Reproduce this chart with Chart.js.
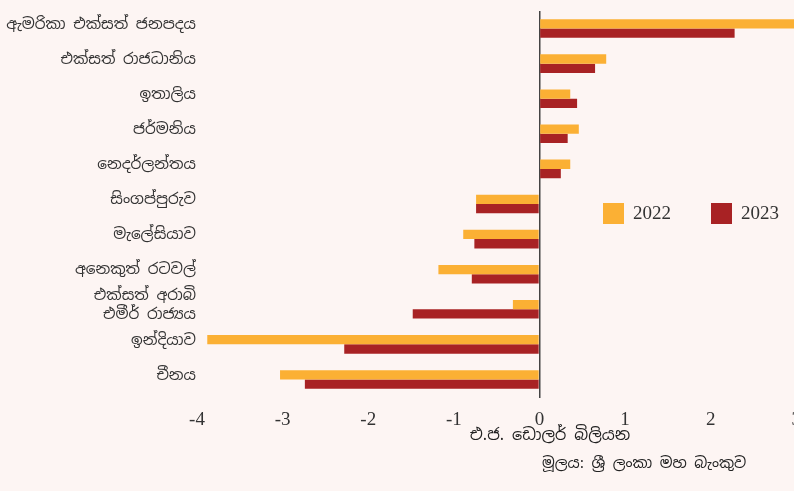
<!DOCTYPE html>
<html>
<head>
<meta charset="utf-8">
<script src="https://cdn.jsdelivr.net/npm/chart.js@4.4.0/dist/chart.umd.min.js"></script>
<style>
  html, body { margin: 0; padding: 0; background: #fdf5f3; overflow: hidden; }
  #wrap { width: 812px; height: 491px; }
</style>
</head>
<body>
<div id="wrap"><canvas id="mycanvas" width="812" height="491"></canvas></div>
<script>
var countries = ['ඇමරිකා එක්සත් ජනපදය', 'එක්සත් රාජධානිය', 'ඉතාලිය', 'ජර්මනිය', 'නෙදර්ලන්තය',
  'සිංගප්පුරුව', 'මැලේසියාව', 'අනෙකුත් රටවල්', ['එක්සත් අරාබි', 'එමීර් රාජ්‍යය'], 'ඉන්දියාව', 'චීනය'];
var series2022 = [3.0, 0.78, 0.36, 0.46, 0.36, -0.74, -0.89, -1.18, -0.31, -3.88, -3.03];
var series2023 = [2.28, 0.65, 0.44, 0.33, 0.25, -0.74, -0.76, -0.79, -1.48, -2.28, -2.74];
var xTitle = 'එ.ජ. ඩොලර් බිලියන';
var sourceNote = 'මූලය: ශ්‍රී ලංකා මහ බැංකුව';

var sinhalaFont = '"Noto Sans Sinhala", "Iskoola Pota", "Noto Sans", sans-serif';
var serifFont = '"Liberation Serif", "DejaVu Serif", serif';

// legend + notes drawn inside the plot
var extras = {
  id: 'extras',
  afterDraw: function(chart) {
    var ctx = chart.ctx;
    ctx.save();
    var items = [[603, '2022', chart.data.datasets[0].backgroundColor],
                 [711, '2023', chart.data.datasets[1].backgroundColor]];
    items.forEach(function(it) {
      ctx.fillStyle = it[2];
      ctx.fillRect(it[0], 203, 21, 21);
      ctx.fillStyle = '#333';
      ctx.font = '19px ' + serifFont;
      ctx.textBaseline = 'middle';
      ctx.textAlign = 'left';
      ctx.fillText(it[1], it[0] + 30, 214);
    });
    ctx.fillStyle = '#222';
    ctx.textAlign = 'center';
    ctx.font = '16px ' + sinhalaFont;
    ctx.fillText(xTitle, 550, 436);
    ctx.textAlign = 'left';
    ctx.font = '15px ' + sinhalaFont;
    ctx.fillText(sourceNote, 542, 464);
    ctx.restore();
  }
};

var chartdata = {
  labels: countries,
  datasets: [
    { label: '2022', data: series2022, backgroundColor: '#fbb034', borderWidth: 0,
      barPercentage: 1, categoryPercentage: 0.53 },
    { label: '2023', data: series2023, backgroundColor: '#a82224', borderWidth: 0,
      barPercentage: 1, categoryPercentage: 0.53 }
  ]
};

var ctx = document.getElementById('mycanvas');
var barGraph = new Chart(ctx, {
  type: 'bar',
  data: chartdata,
  plugins: [extras],
  options: {
    indexAxis: 'y',
    responsive: false,
    animation: false,
    layout: { padding: { left: 0, right: 3, top: 11, bottom: 0 } },
    plugins: { legend: { display: false }, tooltip: { enabled: false } },
    scales: {
      x: {
        min: -4, max: 3,
        afterFit: function(s) { s.height = 94; },
        border: { display: false },
        grid: {
          color: function(c) { return c.tick && c.tick.value === 0 ? '#444' : 'rgba(0,0,0,0)'; },
          lineWidth: 1.5,
          tickLength: 1,
          drawOnChartArea: true
        },
        ticks: { stepSize: 1, padding: 11, color: '#333', font: { family: serifFont, size: 19 } }
      },
      y: {
        afterFit: function(s) { s.width = 197; },
        border: { display: false },
        grid: { display: false, drawTicks: false },
        ticks: { autoSkip: false, padding: 1, labelOffset: -4, color: '#333',
          font: { family: sinhalaFont, size: 15.3, lineHeight: 1.3 } }
      }
    }
  }
});
</script>
</body>
</html>
